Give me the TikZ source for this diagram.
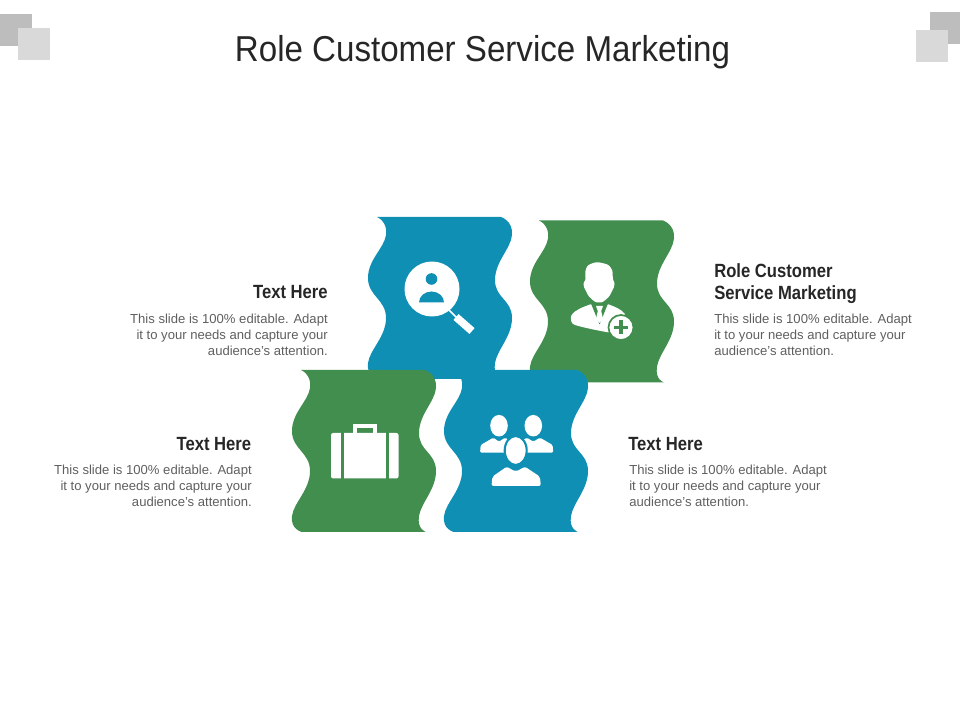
\documentclass[tikz,border=0pt]{standalone}
\usepackage{fontspec}
\setmainfont{Liberation Sans}
\newfontfamily\titlefont[FakeStretch=0.92]{Liberation Sans}
\newfontfamily\headfont[FakeStretch=0.87]{Liberation Sans}
\definecolor{tileblue}{HTML}{0F8FB4}
\definecolor{tilegreen}{HTML}{418E4F}
\definecolor{squaredark}{HTML}{BDBDBD}
\definecolor{squarelight}{HTML}{D9D9D9}
\definecolor{inktitle}{HTML}{262626}
\definecolor{inkbody}{HTML}{5F5F5F}
\newcommand{\tile}[3]{%
  \fill[#3, shift={(#1,#2)}]
    plot[smooth, tension=.8] coordinates {(0,0) (9,18) (-9,61) (9,101) (-9,146) (1,162)}
    -- plot[smooth, tension=.8] coordinates {(125,162) (118,146) (135,101) (118,63) (135,18) (124,0)}
    -- cycle;}
\begin{document}
\begin{tikzpicture}[x=.025cm, y=-.025cm]

      \tikzset{titlenode/.style={inner sep=0pt, text=inktitle, font=\titlefont\fontsize{25.6}{28}\selectfont},
        headnode/.style={inner sep=0pt, text=inktitle, font=\headfont\bfseries\fontsize{13.6}{16}\selectfont},
        bodynode/.style={inner sep=0pt, text=inkbody, font=\fontsize{9.3}{11.4}\selectfont}}
      \useasboundingbox (0,0) rectangle (960,720);
%% Corner squares
      	\fill[squaredark] (0,14) rectangle (32,46);
      	\fill[squarelight] (18,28) rectangle (50,60);
      	\fill[squaredark] (930,12) rectangle (960,44);
      	\fill[squarelight] (916,30) rectangle (948,62);
%% Tiles
      	\tile{377}{217}{tileblue}
      	\tile{539}{220.5}{tilegreen}
      	\tile{301}{370}{tilegreen}
      	\tile{453}{370}{tileblue}
%% Magnifier icon
      	\fill[white] (432,289) circle (27.5);
      	\fill[tileblue] (431.5,279) circle (5.8);
      	\fill[tileblue] (419,302.5) arc (180:360:12.5 and 11) -- cycle;
      	\draw[white, line width=1.2pt] (449,310) -- (458,319);
      	\draw[white, line width=5.5pt] (456,317) -- (472,331);
%% Man icon
      	\fill[white] plot[smooth cycle, tension=.9] coordinates {(585.5,279) (586,269) (592,263.5) (602,263) (611,268) (613,279) (614.5,284) (612,291) (607,298.5) (599,302.5) (591,298.5) (586,291) (583.5,284)};
      	\fill[white] (590,304.5) -- (609,304.5) .. controls (615,307) and (621,309) .. (625,314) -- (612,333) .. controls (600,331) and (585,328) .. (575,325) .. controls (571,324) and (570,319) .. (571.5,315) .. controls (575,310) and (583,307) .. (590,304.5) -- cycle;
      	\fill[tilegreen] (591,303.5) -- (608,303.5) -- (599.5,324.5) -- cycle;
      	\fill[white] (596,306) -- (603,306) -- (601.2,311) -- (603,319) -- (599.5,323) -- (596,319) -- (597.8,311) -- cycle;
      	\fill[white, draw=tilegreen, line width=1.2pt] (621,327.5) circle (12.5);
      	\draw[tilegreen, line width=2.2pt] (614,327.5) -- (628,327.5) (621,320.5) -- (621,334.5);
%% Briefcase icon
      	\draw[white, line width=2.7pt] (355,433) -- (355,426) -- (375,426) -- (375,433);
      	\fill[white, rounded corners=1.5pt] (331,433) rectangle (398.5,478.5);
      	\fill[tilegreen] (341,432) rectangle (344,479);
      	\fill[tilegreen] (386,432) rectangle (389,479);
%% People icon
      	\fill[white] (499,425.7) ellipse (8.8 and 10.8);
      	\fill[white] (533.3,425.7) ellipse (8.8 and 10.8);
      	\fill[white, rounded corners=1pt] (480,452.7) -- (480.7,445) -- (493.3,437.7) -- (499,441.7) -- (505,437.7) -- (512,441.7) -- (512,452.7) -- cycle;
      	\fill[white, rounded corners=1pt] (553.3,452.7) -- (552.6,445) -- (540,437.7) -- (533.3,441.7) -- (527,437.7) -- (520,441.7) -- (520,452.7) -- cycle;
      	\fill[white, draw=tileblue, line width=1.5pt] (515.7,450.5) ellipse (11 and 14.5);
      	\fill[white, rounded corners=1.5pt] (491.5,486) -- (492.3,476.7) -- (506.7,466.7) -- (515.7,471.7) -- (525,466.7) -- (540,476.7) -- (540.8,486) -- cycle;
%% Texts
      	\node[titlenode, anchor=base] (title) at (482.5,61.7) {Role Customer Service Marketing};
      	\node[headnode, anchor=base east] (headtl) at (328,298.3) {Text Here};
      	\node[bodynode, anchor=north east, align=right] (bodytl) at (328,314) {This slide is 100\% editable. Adapt\\it to your needs and capture your\\audience's attention.};
      	\node[headnode, anchor=base east] (headbl) at (251.5,450.3) {Text Here};
      	\node[bodynode, anchor=north east, align=right] (bodybl) at (252,465) {This slide is 100\% editable. Adapt\\it to your needs and capture your\\audience's attention.};
      	\node[headnode, anchor=north west, align=left] (headtr) at (714,263) {Role Customer\\Service Marketing};
      	\node[bodynode, anchor=north west, align=left] (bodytr) at (714,314) {This slide is 100\% editable. Adapt\\it to your needs and capture your\\audience's attention.};
      	\node[headnode, anchor=base west] (headbr) at (628,450.3) {Text Here};
      	\node[bodynode, anchor=north west, align=left] (bodybr) at (629,465) {This slide is 100\% editable. Adapt\\it to your needs and capture your\\audience's attention.};

	\end{tikzpicture}
\end{document}
